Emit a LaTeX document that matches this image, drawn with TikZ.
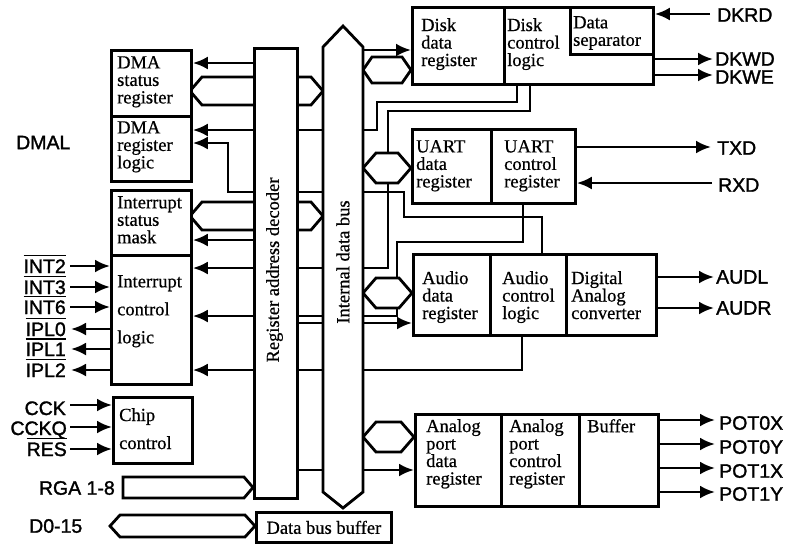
\documentclass[tikz,border=0pt]{standalone}
\usepackage{fontspec}
\setmainfont{Liberation Serif}[FakeBold=0.6]
\newfontfamily\sigfont{Liberation Sans}[FakeBold=1.5]
\usepackage{tikz}
\usetikzlibrary{arrows.meta, positioning, backgrounds}

% gach ngang tren ten tin hieu
\newcommand{\ovl}[1]{\setbox0\hbox{#1}\rlap{\rule[\dimexpr\ht0+3pt\relax]{\wd0}{1.8pt}}\box0}

\begin{document}
\begin{tikzpicture}[x=1pt, y=-1pt, >={Latex[length=15pt,width=13pt]},
    lw/.style={line width=2.8pt},
    blk/.style={lw, draw, fill=white, inner sep=0pt, anchor=north west},
    txt/.style={inner sep=0pt, anchor=north west, align=left, font=\fontsize{18.5}{17.5}\selectfont},
    wtxt/.style={txt, font=\fontsize{18.5}{28}\selectfont},
    sig/.style={inner sep=0pt, font=\sigfont\fontsize{19.5}{19.5}\selectfont},
    wire/.style={lw, ->},
    busx/.style={lw, fill=white, line join=miter}]
    \useasboundingbox (0,0) rectangle (789,544);

    % 1. Cac khoi ben trai
    \node[blk, minimum width=80, minimum height=66] (dmastat) at (110,49) {};
    \node[blk, minimum width=80, minimum height=65] (dmareg) at (110,115) {};
    \node[blk, minimum width=80, minimum height=65] (intmask) at (110,189) {};
    \node[blk, minimum width=80, minimum height=129] (intctl) at (110,254) {};
    \node[blk, minimum width=79, minimum height=66] (chip) at (112,396) {};
    \node[txt] (dmastatT) at (117,56) {DMA\\status\\register};
    \node[txt] (dmaregT) at (117,121) {DMA\\register\\logic};
    \node[txt] (intmaskT) at (117,196) {Interrupt\\status\\mask};
    \node[wtxt] (intctlT) at (117,275) {Interrupt\\control\\logic};
    \node[wtxt] (chipT) at (119,408) {Chip\\control};

    % 2. Bo giai ma, bus trong, bo dem
    \node[blk, minimum width=43, minimum height=450] (decoder) at (253,47) {};
    \node[txt, anchor=center, rotate=90] (decoderT) at (274.5,270) {Register address decoder};
    \coordinate (busL) at (323,0);
    \coordinate (busR) at (363,0);
    \draw[busx] (343,26) -- (363,47) -- (363,492) -- (343,508) -- (323,492) -- (323,47) -- cycle;
    \node[txt, anchor=center, rotate=90] (busT) at (343,262) {Internal data bus};
    \node[blk, minimum width=135, minimum height=30, font=\fontsize{18.5}{18}\selectfont] (buffer) at (255,511) {Data bus buffer};

    % 3. Cac khoi ben phai
    \node[blk, minimum width=92, minimum height=77] (diskdata) at (411,6) {};
    \node[blk, minimum width=149, minimum height=77] (diskctl) at (503,6) {};
    \node[blk, minimum width=83, minimum height=47] (sep) at (569,6) {};
    \node[txt] (diskdataT) at (421,18) {Disk\\data\\register};
    \node[txt] (diskctlT) at (507,18) {Disk\\control\\logic};
    \node[txt] (sepT) at (573,16) {Data\\separator};

    \node[blk, minimum width=79, minimum height=74] (uartdata) at (411,128) {};
    \node[blk, minimum width=84, minimum height=74] (uartctl) at (490,128) {};
    \node[txt] (uartdataT) at (416,140) {UART\\data\\register};
    \node[txt] (uartctlT) at (504,140) {UART\\control\\register};

    \node[blk, minimum width=77, minimum height=81] (auddata) at (412,253) {};
    \node[blk, minimum width=76, minimum height=81] (audctl) at (489,253) {};
    \node[blk, minimum width=90, minimum height=81] (dac) at (565,253) {};
    \node[txt] (auddataT) at (422,271) {Audio\\data\\register};
    \node[txt] (audctlT) at (502,271) {Audio\\control\\logic};
    \node[txt] (dacT) at (571,271) {Digital\\Analog\\converter};

    \node[blk, minimum width=86, minimum height=92] (anadata) at (414,413) {};
    \node[blk, minimum width=78, minimum height=92] (anactl) at (500,413) {};
    \node[blk, minimum width=79, minimum height=92] (abuf) at (578,413) {};
    \node[txt] (anadataT) at (426,419) {Analog\\port\\data\\register};
    \node[txt] (anactlT) at (509,419) {Analog\\port\\control\\register};
    \node[txt] (abufT) at (587,419) {Buffer};

    % 4. Day noi (nam duoi bo giai ma va bus)
    \begin{scope}[on background layer]
    \coordinate (a1) at (517,102);
    \coordinate (a2) at (377,130);
    \draw[wire] (a1 |- diskctl.south) -- (a1) -| (a2) -- (a2 -| dmareg.east);
    \coordinate (b1) at (530,111);
    \coordinate (b2) at (388,268);
    \draw[wire] (b1 |- diskctl.south) -- (b1) -| (b2) -- (b2 -| intctl.east);
    \coordinate (c1) at (542,217);
    \coordinate (c2) at (404,192);
    \coordinate (c3) at (228,143);
    \draw[wire] (c1 |- audctl.north) -- (c1) -| (c2) -| (c3) -- (c3 -| dmareg.east);
    \coordinate (d1) at (523,242);
    \coordinate (d2) at (397,316);
    \draw[wire] (d1 |- uartctl.south) -- (d1) -| (d2) -- (d2 -| intctl.east);
    \coordinate (e1) at (522,370);
    \draw[wire] (e1 |- audctl.south) -- (e1) -- (e1 -| intctl.east);

    \draw[wire] (decoder.west |- 0,63) -- (dmastat.east |- 0,63);
    \draw[wire] (decoder.west |- 0,240) -- (intmask.east |- 0,240);
    \draw[wire] (decoder.east |- 0,323) -- (auddata.west |- 0,323);
    \draw[wire] (decoder.east |- 0,470) -- (anadata.west |- 0,470);
    \draw[wire] (busR |- 0,50) -- (diskdata.west |- 0,50);

    % bus hai chieu
    \draw[busx] (190,91) -- (202,77) -- (311,77) -- (323,91) -- (311,105) -- (202,105) -- cycle;
    \draw[busx] (190,216) -- (202,202) -- (311,202) -- (323,216) -- (311,230) -- (202,230) -- cycle;
    \draw[busx] (363,70) -- (372,57) -- (402,57) -- (411,70) -- (402,83) -- (372,83) -- cycle;
    \draw[busx] (363,168) -- (376,153) -- (398,153) -- (411,168) -- (398,183) -- (376,183) -- cycle;
    \draw[busx] (363,293) -- (376,278) -- (399,278) -- (412,293) -- (399,308) -- (376,308) -- cycle;
    \draw[busx] (363,437) -- (376,422) -- (401,422) -- (414,437) -- (401,452) -- (376,452) -- cycle;
    \end{scope}
    \draw[busx] (123,477) -- (244,477) -- (253,487.5) -- (244,498) -- (123,498) -- cycle;
    \draw[busx] (110,526) -- (120,515) -- (245,515) -- (255,526) -- (245,537) -- (120,537) -- cycle;

    % 5. Tin hieu ben trai
    \node[sig, anchor=west] (DMAL) at (16,142.5) {DMAL};
    \coordinate (pINT2) at (70,266);
    \coordinate (pINT3) at (70,287);
    \coordinate (pINT6) at (70,307);
    \coordinate (pIPL0) at (71,329);
    \coordinate (pIPL1) at (71,349);
    \coordinate (pIPL2) at (71,370);
    \draw[wire] (pINT2) -- (pINT2 -| intctl.west);
    \draw[wire] (pINT3) -- (pINT3 -| intctl.west);
    \draw[wire] (pINT6) -- (pINT6 -| intctl.west);
    \draw[wire] (pIPL0 -| intctl.west) -- (pIPL0);
    \draw[wire] (pIPL1 -| intctl.west) -- (pIPL1);
    \draw[wire] (pIPL2 -| intctl.west) -- (pIPL2);
    \node[sig, anchor=base east] (INT2) at (66,273) {\ovl{INT2}};
    \node[sig, anchor=base east] (INT3) at (66,294) {\ovl{INT3}};
    \node[sig, anchor=base east] (INT6) at (66,314) {\ovl{INT6}};
    \node[sig, anchor=base east] (IPL0) at (66,336) {\ovl{IPL0}};
    \node[sig, anchor=base east] (IPL1) at (66,356) {\ovl{IPL1}};
    \node[sig, anchor=base east] (IPL2) at (66,377) {\ovl{IPL2}};

    \coordinate (pCCK) at (70,405);
    \coordinate (pCCKQ) at (70,427);
    \coordinate (pRES) at (70,449);
    \draw[wire] (pCCK) -- (pCCK -| chip.west);
    \draw[wire] (pCCKQ) -- (pCCKQ -| chip.west);
    \draw[wire] (pRES) -- (pRES -| chip.west);
    \node[sig, anchor=base east] (CCK) at (66,415) {CCK};
    \node[sig, anchor=base east] (CCKQ) at (67,435) {CCKQ};
    \node[sig, anchor=base east] (RES) at (67,456) {\ovl{RES}};
    \node[sig, anchor=east] (RGA) at (115,488) {RGA 1-8};
    \node[sig, anchor=west] (D015) at (29,526) {D0-15};

    % 6. Tin hieu ben phai
    \coordinate (pDKRD) at (710,14);
    \coordinate (pDKWD) at (713,59);
    \coordinate (pDKWE) at (713,75);
    \draw[wire] (pDKRD) -- (pDKRD -| diskctl.east);
    \draw[wire] (pDKWD -| diskctl.east) -- (pDKWD);
    \draw[wire] (pDKWE -| diskctl.east) -- (pDKWE);
    \node[sig, anchor=west] (DKRD) at (717,15) {DKRD};
    \node[sig, anchor=west] (DKWD) at (715,59) {DKWD};
    \node[sig, anchor=west] (DKWE) at (715,77) {DKWE};

    \coordinate (pTXD) at (711,147);
    \coordinate (pRXD) at (712,183);
    \draw[wire] (pTXD -| uartctl.east) -- (pTXD);
    \draw[wire] (pRXD) -- (pRXD -| uartctl.east);
    \node[sig, anchor=west] (TXD) at (717,148) {TXD};
    \node[sig, anchor=west] (RXD) at (718,185) {RXD};

    \coordinate (pAUDL) at (714,277);
    \coordinate (pAUDR) at (714,308);
    \draw[wire] (pAUDL -| dac.east) -- (pAUDL);
    \draw[wire] (pAUDR -| dac.east) -- (pAUDR);
    \node[sig, anchor=west] (AUDL) at (716,277) {AUDL};
    \node[sig, anchor=west] (AUDR) at (716,308) {AUDR};

    \coordinate (pP0X) at (715,420);
    \coordinate (pP0Y) at (715,444);
    \coordinate (pP1X) at (715,468);
    \coordinate (pP1Y) at (715,492);
    \draw[wire] (pP0X -| abuf.east) -- (pP0X);
    \draw[wire] (pP0Y -| abuf.east) -- (pP0Y);
    \draw[wire] (pP1X -| abuf.east) -- (pP1X);
    \draw[wire] (pP1Y -| abuf.east) -- (pP1Y);
    \node[sig, anchor=west] (POT0X) at (719,423) {POT0X};
    \node[sig, anchor=west] (POT0Y) at (719,447) {POT0Y};
    \node[sig, anchor=west] (POT1X) at (719,471) {POT1X};
    \node[sig, anchor=west] (POT1Y) at (719,494) {POT1Y};
\end{tikzpicture}
\end{document}
